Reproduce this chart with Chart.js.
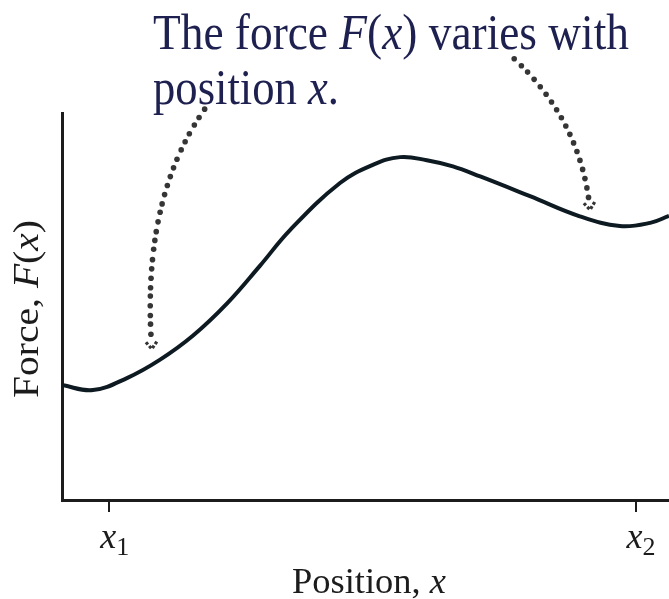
<!DOCTYPE html>
<html>
<head>
<meta charset="utf-8">
<script src="https://cdn.jsdelivr.net/npm/chart.js@4"></script>
<style>
  html, body { margin: 0; padding: 0; background: #fff; }
  canvas { display: block; }
</style>
</head>
<body>
<canvas id="forceChart" width="669" height="599"></canvas>
<script>
  // Force curve samples (position, force) in arbitrary units
  const positions = [0, 0.51, 1.07, 1.61, 2.16, 2.72, 3.26, 3.76, 4.58, 5.12, 5.57, 6.01, 6.44, 6.89, 7.71, 8.53, 9.19, 9.69, 10];
  const forces = [2.97, 2.84, 3.15, 3.62, 4.25, 5.08, 6.05, 6.98, 8.19, 8.66, 8.86, 8.78, 8.62, 8.36, 7.85, 7.33, 7.08, 7.16, 7.34];

  // Marked positions on the x axis
  const tickValues = [0.78, 9.45];
  const tickSubscripts = ["1", "2"];

  // Dotted pointer arrows: start, control, end (data units)
  const arrowPaths = [
    [[2.35, 10.1], [1.3, 7.75], [1.48, 3.9]],
    [[7.45, 11.4], [8.55, 9.8], [8.7, 7.5]],
  ];

  const serif = '"Liberation Serif", "DejaVu Serif", serif';
  const titleColor = "#1e2150";
  const inkColor = "#1c1c1c";

  // draw runs of mixed fonts on one baseline, squeezed to a given width
  function drawRuns(ctx, runs, x, y, width) {
    let total = 0;
    runs.forEach((r) => {
      ctx.font = r.font;
      r.w = ctx.measureText(r.text).width;
      total += r.w;
    });
    const sx = width ? width / total : 1;
    ctx.save();
    ctx.translate(x, y);
    ctx.scale(sx, 1);
    let cx = 0;
    runs.forEach((r) => {
      ctx.font = r.font;
      ctx.fillText(r.text, cx, r.dy || 0);
      cx += r.w;
    });
    ctx.restore();
  }

  const labelsPlugin = {
    id: "labels",
    afterDraw(chart) {
      const { ctx, scales } = chart;
      const xs = scales.x;
      const ys = scales.y;
      ctx.save();
      ctx.textBaseline = "alphabetic";

      // heading
      ctx.fillStyle = titleColor;
      const big = `50px ${serif}`;
      const bigI = `italic 50px ${serif}`;
      drawRuns(ctx, [
        { text: "The force ", font: big },
        { text: "F", font: bigI },
        { text: "(", font: big },
        { text: "x", font: bigI },
        { text: ") varies with", font: big },
      ], 153, 49, 476);
      drawRuns(ctx, [
        { text: "position ", font: big },
        { text: "x", font: bigI },
        { text: ".", font: big },
      ], 153, 104, 186);

      // x tick labels with subscripts
      ctx.fillStyle = inkColor;
      tickValues.forEach((v, i) => {
        const px = xs.getPixelForValue(v);
        drawRuns(ctx, [
          { text: "x", font: `italic 36px ${serif}` },
          { text: tickSubscripts[i], font: `26px ${serif}`, dy: 7 },
        ], px - 9, 548);
      });

      // axis titles
      drawRuns(ctx, [
        { text: "Position, ", font: `35px ${serif}` },
        { text: "x", font: `italic 35px ${serif}` },
      ], 292, 593, 154);

      ctx.save();
      ctx.translate(38, 398);
      ctx.rotate(-Math.PI / 2);
      drawRuns(ctx, [
        { text: "Force, ", font: `35px ${serif}` },
        { text: "F", font: `italic 35px ${serif}` },
        { text: "(", font: `35px ${serif}` },
        { text: "x", font: `italic 35px ${serif}` },
        { text: ")", font: `35px ${serif}` },
      ], 0, 0, 178);
      ctx.restore();

      // dotted arrows
      ctx.fillStyle = "#353535";
      ctx.strokeStyle = "#353535";
      arrowPaths.forEach((path) => {
        const p = path.map(([a, b]) => [xs.getPixelForValue(a), ys.getPixelForValue(b)]);
        const pt = (t) => [
          (1 - t) * (1 - t) * p[0][0] + 2 * t * (1 - t) * p[1][0] + t * t * p[2][0],
          (1 - t) * (1 - t) * p[0][1] + 2 * t * (1 - t) * p[1][1] + t * t * p[2][1],
        ];
        // approximate arc length for even dot spacing
        let len = 0;
        let prev = pt(0);
        const samples = [{ t: 0, d: 0 }];
        for (let k = 1; k <= 200; k++) {
          const q = pt(k / 200);
          len += Math.hypot(q[0] - prev[0], q[1] - prev[1]);
          samples.push({ t: k / 200, d: len });
          prev = q;
        }
        const gap = 9.4;
        const n = Math.floor((len - 7) / gap);
        let j = 0;
        for (let k = 0; k <= n; k++) {
          const d = k * gap;
          while (j < samples.length - 1 && samples[j].d < d) j++;
          const q = pt(samples[j].t);
          ctx.beginPath();
          ctx.arc(q[0], q[1], 2.8, 0, Math.PI * 2);
          ctx.fill();
        }
        // arrowhead
        const end = p[2];
        const before = pt(0.96);
        const ang = Math.atan2(end[1] - before[1], end[0] - before[0]);
        ctx.lineWidth = 3.2;
        ctx.setLineDash([3, 2]);
        ctx.beginPath();
        ctx.moveTo(end[0] - 9 * Math.cos(ang - 0.65), end[1] - 9 * Math.sin(ang - 0.65));
        ctx.lineTo(end[0], end[1]);
        ctx.lineTo(end[0] - 9 * Math.cos(ang + 0.65), end[1] - 9 * Math.sin(ang + 0.65));
        ctx.stroke();
        ctx.setLineDash([]);
      });
      ctx.restore();
    },
  };

  new Chart(document.getElementById("forceChart").getContext("2d"), {
    type: "line",
    data: {
      datasets: [
        {
          data: positions.map((x, i) => ({ x, y: forces[i] })),
          borderColor: "#0e1a22",
          borderWidth: 4,
          pointRadius: 0,
          tension: 0.4,
          fill: false,
        },
      ],
    },
    options: {
      responsive: false,
      animation: false,
      layout: { padding: { left: 62, top: 113, right: 0, bottom: 87 } },
      plugins: { legend: { display: false }, tooltip: { enabled: false } },
      scales: {
        x: {
          type: "linear",
          min: 0,
          max: 10,
          afterBuildTicks: (scale) => {
            scale.ticks = tickValues.map((value) => ({ value }));
          },
          ticks: { display: false },
          grid: { drawOnChartArea: false, drawTicks: true, tickLength: 12, color: inkColor, lineWidth: 2 },
          border: { display: true, color: inkColor, width: 3 },
        },
        y: {
          type: "linear",
          min: 0,
          max: 10,
          ticks: { display: false },
          grid: { display: false, drawTicks: false },
          border: { display: true, color: inkColor, width: 3 },
        },
      },
    },
    plugins: [labelsPlugin],
  });
</script>
</body>
</html>
